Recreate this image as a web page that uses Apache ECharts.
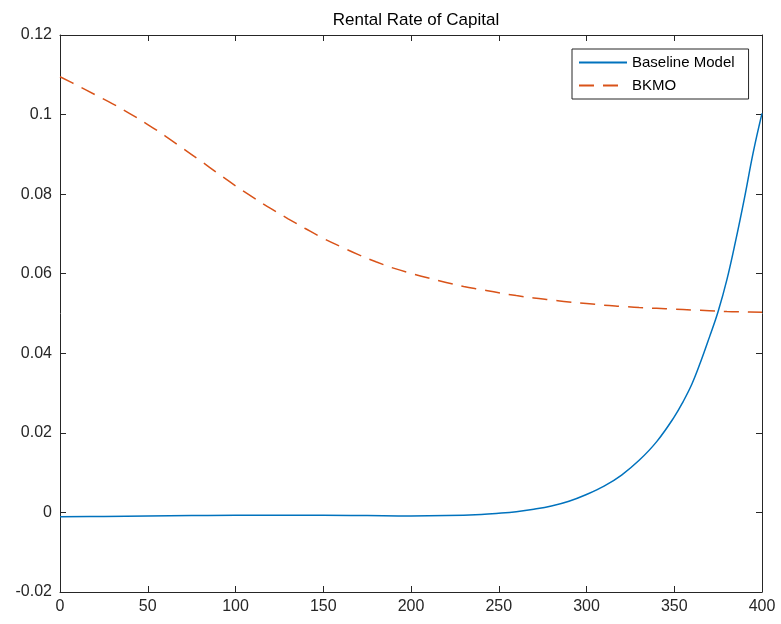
<!DOCTYPE html>
<html>
<head>
<meta charset="utf-8">
<script src="https://cdn.jsdelivr.net/npm/echarts@6/dist/echarts.min.js"></script>
<style>
  html, body { margin: 0; padding: 0; background: #fff; }
  #chart { width: 781px; height: 624px; }
</style>
</head>
<body>
<div id="chart"></div>
<script>
// Rental rate of capital over the transition path
const titleText = 'Rental Rate of Capital';
const seriesNames = ['Baseline Model', 'BKMO'];

const xTicks = [0, 50, 100, 150, 200, 250, 300, 350, 400];
const yTicks = [-0.02, 0, 0.02, 0.04, 0.06, 0.08, 0.1, 0.12];

const baselineT = [0, 25, 50, 75, 100, 125, 150, 175, 200, 220, 240, 250, 260, 270, 280, 290,
  300, 310, 320, 330, 340, 350, 355, 360, 365, 370, 375, 380, 385, 390, 395, 400];
const baselineR = [-0.0011, -0.0010, -0.0009, -0.0008, -0.0007, -0.0007, -0.0007, -0.0008,
  -0.0009, -0.0008, -0.0005, -0.0002, 0.0002, 0.0008, 0.0016, 0.0028,
  0.0045, 0.0066, 0.0094, 0.0131, 0.0178, 0.0240, 0.0278, 0.0322, 0.0378, 0.0440,
  0.0505, 0.0585, 0.0683, 0.0790, 0.0905, 0.1003];

const bkmoT = [0, 10, 20, 30, 40, 50, 60, 70, 80, 90, 100, 110, 120, 130, 140, 150, 160,
  170, 180, 190, 200, 210, 220, 230, 240, 250, 260, 270, 280, 290, 300, 310, 320, 330,
  340, 350, 360, 370, 380, 390, 400];
const bkmoR = [0.1095, 0.1073, 0.1050, 0.1027, 0.1002, 0.0975, 0.0946, 0.0915, 0.0884,
  0.0852, 0.0821, 0.0792, 0.0764, 0.0738, 0.0713, 0.0689, 0.0668, 0.0648, 0.0630,
  0.0614, 0.0601, 0.0589, 0.0578, 0.0568, 0.0560, 0.0552, 0.0545, 0.0539, 0.0534,
  0.0529, 0.0525, 0.0521, 0.0518, 0.0515, 0.0513, 0.0511, 0.0509, 0.0507, 0.0505,
  0.0504, 0.0503];

const pair = (xs, ys) => xs.map((x, i) => [x, ys[i]]);

const axisColor = '#262626';
const fontFamily = '"Liberation Sans", Arial, Helvetica, sans-serif';

const chart = echarts.init(document.getElementById('chart'), null, { renderer: 'canvas' });

const boxAxisLine = { show: true, onZero: false, lineStyle: { color: axisColor, width: 1 } };
const boxTick = { show: true, inside: true, length: 6, lineStyle: { color: axisColor, width: 1 } };

chart.setOption({
  backgroundColor: '#fff',
  animation: false,
  title: {
    text: titleText,
    left: 411, top: 7, textAlign: 'center',
    textStyle: { fontFamily, fontSize: 17, fontWeight: 'normal', color: '#000' }
  },
  grid: { left: 60, right: 19, top: 35, bottom: 32, containLabel: false },
  legend: {
    orient: 'vertical',
    left: 572, top: 49,
    padding: [6, 14, 6, 6],
    itemWidth: 48, itemHeight: 14, itemGap: 8,
    backgroundColor: '#fff',
    borderColor: axisColor, borderWidth: 1,
    itemStyle: { opacity: 0 },
    textStyle: { fontFamily, fontSize: 15, color: '#000' },
    data: seriesNames
  },
  xAxis: [
    {
      type: 'value', min: xTicks[0], max: xTicks[xTicks.length - 1], interval: 50,
      position: 'bottom',
      axisLine: boxAxisLine, axisTick: boxTick,
      axisLabel: { fontFamily, fontSize: 16, color: axisColor, margin: 7,
        formatter: v => xTicks.includes(v) ? String(v) : '' },
      splitLine: { show: false }
    },
    {
      type: 'value', min: xTicks[0], max: xTicks[xTicks.length - 1], interval: 50,
      position: 'top',
      axisLine: boxAxisLine, axisTick: boxTick,
      axisLabel: { show: false }, splitLine: { show: false }
    }
  ],
  yAxis: [
    {
      type: 'value', min: yTicks[0], max: yTicks[yTicks.length - 1], interval: 0.02,
      position: 'left',
      axisLine: boxAxisLine, axisTick: boxTick,
      axisLabel: { fontFamily, fontSize: 16, color: axisColor, margin: 8,
        formatter: v => {
          const r = Math.round(v * 100) / 100;
          return r === 0 ? '0' : String(r);
        } },
      splitLine: { show: false }
    },
    {
      type: 'value', min: yTicks[0], max: yTicks[yTicks.length - 1], interval: 0.02,
      position: 'right',
      axisLine: boxAxisLine, axisTick: boxTick,
      axisLabel: { show: false }, splitLine: { show: false }
    }
  ],
  series: [
    {
      name: seriesNames[0], type: 'line',
      data: pair(baselineT, baselineR),
      symbol: 'none', smooth: 0.4,
      lineStyle: { color: '#0072BD', width: 1.5 },
      itemStyle: { color: '#0072BD' }
    },
    {
      name: seriesNames[1], type: 'line',
      data: pair(bkmoT, bkmoR),
      symbol: 'none', smooth: 0.4,
      lineStyle: { color: '#D95319', width: 1.5, type: [15, 9] },
      itemStyle: { color: '#D95319' }
    }
  ]
});
</script>
</body>
</html>
